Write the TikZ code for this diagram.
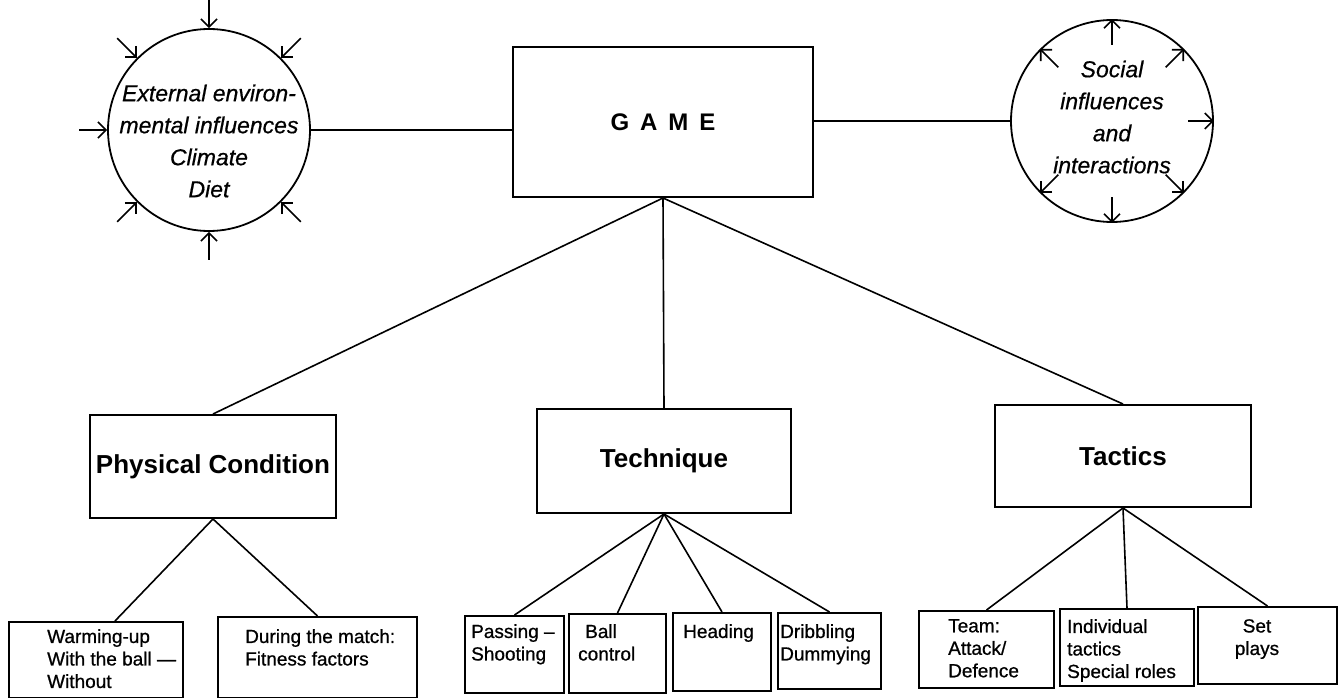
\documentclass[tikz,border=0pt]{standalone}
\usepackage{fontspec}
\setmainfont{Liberation Sans}
\newfontfamily\leaffont{Liberation Sans}[Ligatures=TeX,FakeBold=0.8]
\newfontfamily\ringfont{Liberation Sans}[Ligatures=TeX,FakeBold=0.6]
\usetikzlibrary{arrows.meta}

\begin{document}
\begin{tikzpicture}[x=1pt,y=-1pt,
    box/.style={draw,rectangle,line width=2pt,inner sep=0pt},
    head/.style={box,font=\fontsize{26}{30}\selectfont\bfseries},
    leaf/.style={box,anchor=north west},
    leaftext/.style={anchor=north west,inner sep=0pt,align=left,
      font=\leaffont\fontsize{19}{22.5}\selectfont},
    ring/.style={draw,circle,line width=1.8pt,minimum size=202pt,inner sep=0pt},
    ringtext/.style={align=center,inner sep=0pt,
      font=\ringfont\fontsize{23}{32}\selectfont\itshape},
    link/.style={line width=1.6pt},
    barb/.style={line width=1.6pt,-{Straight Barb[length=8pt,width=16pt]}}]
  \useasboundingbox (0,0) rectangle (1339,698);

  % top row
  \node[box,minimum width=300pt,minimum height=150pt,
        font=\fontsize{24}{28}\selectfont\bfseries] (game) at (663,122)
        {\spaceskip=11pt G A M E};
  \node[ring] (env) at (209,130) {};
  \node[ringtext] (envtext) at (209,141)
        {External environ-\\mental influences\\Climate\\Diet};
  \node[ring] (soc) at (1112,121) {};
  \node[ringtext] (soctext) at (1112,117)
        {Social\\influences\\and\\interactions};

  % middle row
  \node[head,minimum width=246pt,minimum height=103pt] (phys) at (213,466.5)
        {Physical Condition};
  \node[head,minimum width=254pt,minimum height=104pt] (tech) at (664,461)
        {Technique};
  \node[head,minimum width=256pt,minimum height=102pt] (tact) at (1123,456)
        {Tactics};

  % bottom row
  \node[leaf,minimum width=174pt,minimum height=76pt] (warm) at (8,621) {};
  \node[leaf,minimum width=199pt,minimum height=81pt] (match) at (217,616) {};
  \node[leaf,minimum width=99pt,minimum height=77pt] (pass) at (464,615) {};
  \node[leaf,minimum width=97pt,minimum height=79pt] (ball) at (568,613) {};
  \node[leaf,minimum width=98pt,minimum height=78pt] (heading) at (672,612) {};
  \node[leaf,minimum width=103pt,minimum height=76pt] (dribble) at (777,612) {};
  \node[leaf,minimum width=135pt,minimum height=77pt] (team) at (918,610) {};
  \node[leaf,minimum width=134pt,minimum height=77pt] (indiv) at (1059,608) {};
  \node[leaf,minimum width=139pt,minimum height=77pt] (setp) at (1197,606) {};

  \node[leaftext] (warmtext) at (47,629) {Warming-up\\With the ball ---\\Without};
  \node[leaftext] (matchtext) at (245,629) {During the match:\\Fitness factors};
  \node[leaftext] (passtext) at (471,624) {Passing --\\Shooting};
  \node[leaftext] (balltext) at (578,624) {\hspace*{7pt}Ball\\control};
  \node[leaftext] (headingtext) at (683,624) {Heading};
  \node[leaftext] (dribbletext) at (780,624) {Dribbling\\Dummying};
  \node[leaftext] (teamtext) at (948,619) {Team:\\Attack/\\Defence};
  \node[leaftext] (indivtext) at (1067,619) {Individual\\tactics\\Special roles};
  \node[leaftext,anchor=north,align=center] (setptext) at (1257,619) {Set\\plays};

  % connectors
  \draw[link] (env.east) -- (env.east -| game.west);
  \draw[link] (soc.west) -- (soc.west -| game.east);
  \draw[link] (game.south) -- (phys.north);
  \draw[link] (game.south) -- (tech.north);
  \draw[link] (game.south) -- (tact.north);
  \coordinate (warmtop) at (115,621);
  \draw[link] (phys.south) -- (warmtop);
  \draw[link] (phys.south) -- (match.north);
  \foreach \kid in {pass,ball,heading,dribble}
    \draw[link] (tech.south) -- (\kid.north);
  \foreach \kid in {team,indiv,setp}
    \draw[link] (tact.south) -- (\kid.north);

  % influences
  \foreach \a in {45,90,135,180,225,270,315}
    \draw[barb] (env.\a) ++(\a:28pt) -- (env.\a);
  \foreach \a in {0,45,90,135,225,270,315}
    \draw[barb] (soc.center) ++(\a:76pt) -- (soc.\a);
\end{tikzpicture}
\end{document}
